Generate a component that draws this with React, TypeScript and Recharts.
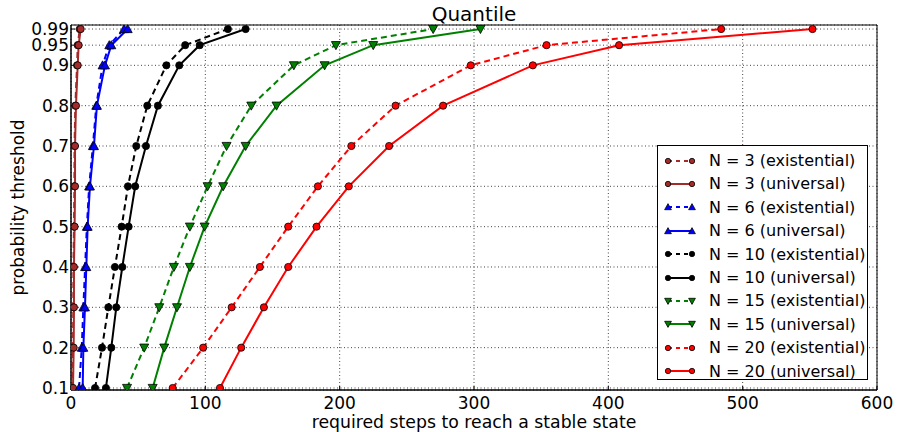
import { LineChart, Line, XAxis, YAxis, CartesianGrid, ReferenceArea } from 'recharts';

const levels = [0.1, 0.2, 0.3, 0.4, 0.5, 0.6, 0.7, 0.8, 0.9, 0.95, 0.99];
const yTicks = [0.1, 0.2, 0.3, 0.4, 0.5, 0.6, 0.7, 0.8, 0.9, 0.95, 0.99];
const xTicks = [0, 100, 200, 300, 400, 500, 600];

const n3Ex = [1, 1.5, 1.7, 1.8, 2.2, 2.5, 2.6, 3.2, 4.5, 5, 6.5];
const n3Un = [1.5, 2, 2.2, 2.2, 2.7, 3, 3, 3.7, 5, 5.7, 7.2];
const n6Ex = [6, 8, 9.2, 10.5, 11.8, 13.5, 16.3, 18.8, 23.5, 28.5, 39.5];
const n6Un = [8.7, 9.2, 10.4, 11.4, 12.4, 14.1, 17.1, 19.3, 25.3, 30, 42.2];
const n10Ex = [17.9, 23.1, 27.8, 32.7, 37.7, 42.4, 48.6, 56.8, 71, 85, 116.8];
const n10Un = [26, 30, 33.7, 38.2, 42.9, 47.8, 55.8, 64.7, 80.6, 95.8, 130];
const n15Ex = [41.7, 54.5, 65.7, 76.6, 88.5, 101.7, 115.8, 134.2, 165.9, 197.2, 269.6];
const n15Un = [60.8, 69.4, 78.9, 88.5, 99.5, 113.3, 130, 153, 188.8, 225, 304.8];
const n20Ex = [75.7, 98.4, 119.6, 140.6, 161.7, 183.8, 208.7, 241.6, 297.6, 354, 484];
const n20Un = [110.9, 126.7, 143.6, 161.7, 182.8, 206.8, 236.8, 277, 343.8, 408, 552];

type Shape = 'circle' | 'up' | 'down';

const series: { name: string; values: number[]; color: string; shape: Shape; dashed: boolean }[] = [
  { name: 'N = 3 (existential)', values: n3Ex, color: '#a52a2a', shape: 'circle', dashed: true },
  { name: 'N = 3 (universal)', values: n3Un, color: '#a52a2a', shape: 'circle', dashed: false },
  { name: 'N = 6 (existential)', values: n6Ex, color: '#0000ff', shape: 'up', dashed: true },
  { name: 'N = 6 (universal)', values: n6Un, color: '#0000ff', shape: 'up', dashed: false },
  { name: 'N = 10 (existential)', values: n10Ex, color: '#000000', shape: 'circle', dashed: true },
  { name: 'N = 10 (universal)', values: n10Un, color: '#000000', shape: 'circle', dashed: false },
  { name: 'N = 15 (existential)', values: n15Ex, color: '#008000', shape: 'down', dashed: true },
  { name: 'N = 15 (universal)', values: n15Un, color: '#008000', shape: 'down', dashed: false },
  { name: 'N = 20 (existential)', values: n20Ex, color: '#ff0000', shape: 'circle', dashed: true },
  { name: 'N = 20 (universal)', values: n20Un, color: '#ff0000', shape: 'circle', dashed: false },
];

const FONT = '"DejaVu Sans", sans-serif';

function marker(shape: Shape, color: string, cx: number, cy: number, s = 1, key?: string) {
  if (shape === 'circle') {
    return <circle key={key} cx={cx} cy={cy} r={3.6 * s} fill={color} stroke="#000" strokeWidth={0.8} />;
  }
  const h = 4.5 * s;
  const pts = shape === 'up'
    ? `${cx},${cy - h} ${cx - h},${cy + h * 0.8} ${cx + h},${cy + h * 0.8}`
    : `${cx},${cy + h} ${cx - h},${cy - h * 0.8} ${cx + h},${cy - h * 0.8}`;
  return <polygon key={key} points={pts} fill={color} stroke="#000" strokeWidth={0.8} />;
}

const PL = 71, PR = 877, PT = 25, PB = 390;

export default function App() {
  return (
    <div style={{ position: 'absolute', left: 0, top: 0, width: 898, height: 432, background: '#fff', fontFamily: FONT }}>
      <div style={{ position: 'absolute', left: PL, width: PR - PL, top: 2, textAlign: 'center', fontSize: 20, color: '#000' }}>
        Quantile
      </div>
      <LineChart width={898} height={432} margin={{ top: PT, right: 898 - PR, bottom: 0, left: 0 }}>
        <CartesianGrid stroke="#444" strokeDasharray="1 2.5" />
        <XAxis
          type="number"
          dataKey="x"
          domain={[0, 600]}
          ticks={xTicks}
          interval={0}
          allowDataOverflow
          height={432 - PB}
          tick={{ fill: '#000', fontSize: 17, fontFamily: FONT }}
          tickLine={{ stroke: '#000' }}
          tickSize={-4}
          tickMargin={11}
          axisLine={{ stroke: '#000' }}
          label={{ value: 'required steps to reach a stable state', position: 'insideBottom', offset: 4, style: { fill: '#000', fontSize: 17.3, fontFamily: FONT } }}
        />
        <YAxis
          type="number"
          dataKey="y"
          domain={[0.095, 1.0]}
          ticks={yTicks}
          interval={0}
          allowDataOverflow
          width={PL}
          tick={{ fill: '#000', fontSize: 17, fontFamily: FONT }}
          tickFormatter={(v) => String(v)}
          tickLine={{ stroke: '#000' }}
          tickSize={-4}
          tickMargin={6}
          axisLine={{ stroke: '#000' }}
          label={{
            content: () => (
              <text x={18} y={(PT + PB) / 2} transform={`rotate(-90 18 ${(PT + PB) / 2})`} textAnchor="middle" dominantBaseline="central" fontSize={17} fontFamily={FONT} fill="#000">
                probability threshold
              </text>
            ),
          }}
        />
        <ReferenceArea x1={0} x2={600} y1={0.095} y2={1.0} fill="none" stroke="#000" strokeWidth={1} fillOpacity={0} ifOverflow="visible" />
        {series.map((s) => (
          <Line
            key={s.name}
            name={s.name}
            data={s.values.map((x, i) => ({ x, y: levels[i] }))}
            dataKey="y"
            type="linear"
            stroke={s.color}
            strokeWidth={2}
            strokeDasharray={s.dashed ? '6 4' : undefined}
            isAnimationActive={false}
            dot={(p: any) => marker(s.shape, s.color, p.cx, p.cy, 1, `${s.name}-${p.index}`)}
            activeDot={false}
          />
        ))}
      </LineChart>
      <div style={{ position: 'absolute', left: 657, top: 145, width: 211, height: 235, border: '1px solid #000', background: '#fff', boxSizing: 'border-box' }}>
        {series.map((s, i) => (
          <div key={s.name} style={{ position: 'absolute', left: 0, top: 3 + i * 23.4, height: 23, display: 'flex', alignItems: 'center' }}>
            <svg width={50} height={20} style={{ display: 'block' }}>
              <line x1={10} y1={10} x2={34} y2={10} stroke={s.color} strokeWidth={2} strokeDasharray={s.dashed ? '4 4' : undefined} />
              {marker(s.shape, s.color, 10, 10, 0.75)}
              {marker(s.shape, s.color, 34, 10, 0.75)}
            </svg>
            <span style={{ fontSize: 16, color: '#000', whiteSpace: 'nowrap', marginLeft: 1 }}>{s.name}</span>
          </div>
        ))}
      </div>
    </div>
  );
}
